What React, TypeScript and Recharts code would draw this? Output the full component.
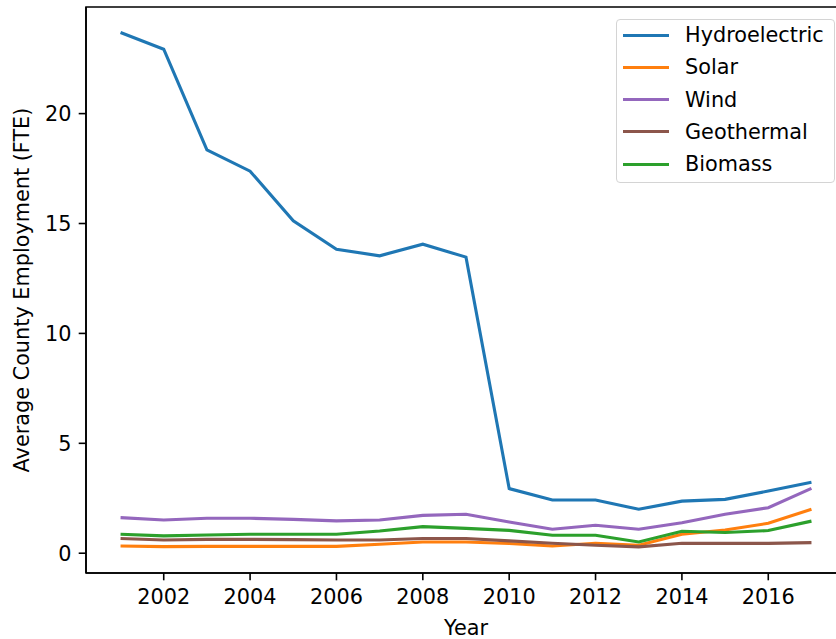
import { LineChart, Line, XAxis, YAxis, ReferenceArea } from "recharts";

const years = [2001, 2002, 2003, 2004, 2005, 2006, 2007, 2008, 2009, 2010, 2011, 2012, 2013, 2014, 2015, 2016, 2017];
const hydro = [23.69, 22.93, 18.35, 17.38, 15.12, 13.83, 13.53, 14.06, 13.47, 2.94, 2.42, 2.42, 2.0, 2.37, 2.45, 2.83, 3.23];
const solar = [0.33, 0.3, 0.31, 0.31, 0.31, 0.31, 0.41, 0.51, 0.51, 0.44, 0.33, 0.45, 0.36, 0.86, 1.06, 1.36, 2.0];
const wind = [1.62, 1.51, 1.59, 1.59, 1.54, 1.47, 1.51, 1.72, 1.77, 1.42, 1.09, 1.27, 1.09, 1.39, 1.77, 2.07, 2.95];
const geothermal = [0.67, 0.6, 0.63, 0.63, 0.62, 0.6, 0.6, 0.67, 0.67, 0.56, 0.45, 0.36, 0.29, 0.45, 0.45, 0.45, 0.48];
const biomass = [0.86, 0.79, 0.83, 0.86, 0.86, 0.86, 1.01, 1.21, 1.13, 1.04, 0.82, 0.82, 0.51, 1.0, 0.94, 1.03, 1.46];

const xTicks = [2002, 2004, 2006, 2008, 2010, 2012, 2014, 2016];
const yTicks = [0, 5, 10, 15, 20];

const series = [
  { key: "hydro", name: "Hydroelectric", color: "#1f77b4" },
  { key: "solar", name: "Solar", color: "#ff7f0e" },
  { key: "wind", name: "Wind", color: "#9467bd" },
  { key: "geothermal", name: "Geothermal", color: "#8c564b" },
  { key: "biomass", name: "Biomass", color: "#2ca02c" },
];

const data = years.map((year, i) => ({
  year,
  hydro: hydro[i],
  solar: solar[i],
  wind: wind[i],
  geothermal: geothermal[i],
  biomass: biomass[i],
}));

const X_DOMAIN: [number, number] = [2000.2, 2017.8];
const Y_DOMAIN: [number, number] = [-0.9, 24.85];
const FONT = "DejaVu Sans, sans-serif";
const FS = 20.8;

// matplotlib-style legend box, overlaid in the upper right
function LegendBox() {
  return (
    <div
      style={{
        position: "absolute",
        left: 616,
        top: 19,
        width: 217,
        height: 162,
        border: "1px solid #d4d4d4",
        borderRadius: 4,
        background: "rgba(255,255,255,0.8)",
        fontFamily: FONT,
        fontSize: FS,
        color: "#000",
      }}
    >
      {series.map((s, i) => (
        <div
          key={s.key}
          style={{ position: "absolute", left: 0, top: 15 + i * 32.3 - 13, height: 26, display: "flex", alignItems: "center" }}
        >
          <div style={{ width: 46, height: 3, background: s.color, marginLeft: 6 }} />
          <span style={{ marginLeft: 16, whiteSpace: "nowrap", lineHeight: "26px" }}>{s.name}</span>
        </div>
      ))}
    </div>
  );
}

function YLabel(props: any) {
  const vb = props.viewBox;
  const cx = 22;
  const cy = vb.y + vb.height / 2;
  return (
    <text
      x={cx}
      y={cy}
      transform={`rotate(-90 ${cx} ${cy})`}
      textAnchor="middle"
      dominantBaseline="central"
      fontFamily={FONT}
      fontSize={FS}
      fill="#000"
    >
      Average County Employment (FTE)
    </text>
  );
}

function XLabel(props: any) {
  const vb = props.viewBox;
  return (
    <text x={vb.x + vb.width / 2} y={635} textAnchor="middle" fontFamily={FONT} fontSize={FS} fill="#000">
      Year
    </text>
  );
}

export default function App() {
  return (
    <div style={{ position: "absolute", left: 0, top: 0, width: 836, height: 639, overflow: "hidden", background: "#fff" }}>
      <LineChart width={850} height={639} data={data} margin={{ top: 7, right: 4, left: 0, bottom: 0 }}>
        <XAxis
          dataKey="year"
          type="number"
          domain={X_DOMAIN}
          ticks={xTicks}
          allowDataOverflow
          tickSize={7.3}
          tickMargin={9.4}
          height={66}
          axisLine={{ stroke: "#000", strokeWidth: 1.6 }}
          tickLine={{ stroke: "#000", strokeWidth: 1.6 }}
          tick={{ fill: "#000", fontSize: FS, fontFamily: FONT }}
          label={<XLabel />}
        />
        <YAxis
          type="number"
          domain={Y_DOMAIN}
          ticks={yTicks}
          allowDataOverflow
          width={86}
          tickSize={7.3}
          tickMargin={7.3}
          axisLine={{ stroke: "#000", strokeWidth: 1.6 }}
          tickLine={{ stroke: "#000", strokeWidth: 1.6 }}
          tick={{ fill: "#000", fontSize: FS, fontFamily: FONT }}
          label={<YLabel />}
        />
        <ReferenceArea
          x1={X_DOMAIN[0]}
          x2={X_DOMAIN[1]}
          y1={Y_DOMAIN[0]}
          y2={Y_DOMAIN[1]}
          fill="none"
          stroke="#000"
          strokeWidth={1.6}
          ifOverflow="visible"
        />
        {series.map((s) => (
          <Line
            key={s.key}
            dataKey={s.key}
            name={s.name}
            stroke={s.color}
            strokeWidth={3.1}
            dot={false}
            type="linear"
            isAnimationActive={false}
          />
        ))}
      </LineChart>
      <LegendBox />
    </div>
  );
}
